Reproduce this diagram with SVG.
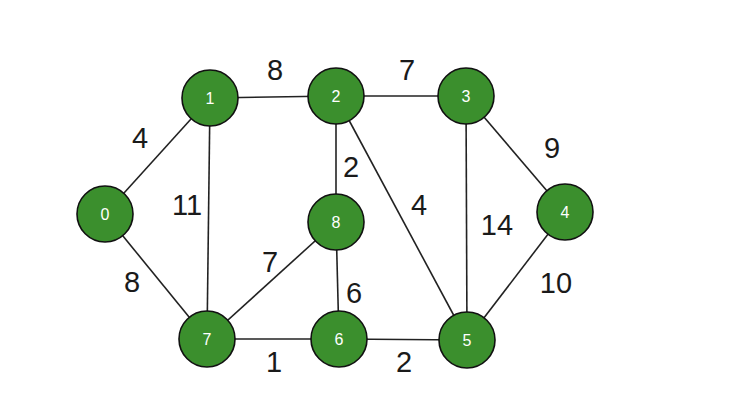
<svg xmlns="http://www.w3.org/2000/svg" width="736" height="416" viewBox="0 0 736 416">
<style>
.e{stroke:#222;stroke-width:1.6;fill:none}
.n{fill:#3b8f2d;stroke:#111;stroke-width:1.6}
.nl{font-family:"Liberation Sans",Arial,sans-serif;font-size:16px;fill:#fff;text-anchor:middle}
.w{font-family:"Liberation Sans",Arial,sans-serif;font-size:29px;fill:#1a1a1a;text-anchor:middle}
</style>
<rect width="736" height="416" fill="#fff"/>
<g id="edges">
<line class="e" x1="105" y1="214" x2="210" y2="98"/>
<line class="e" x1="105" y1="214" x2="207" y2="339"/>
<line class="e" x1="210" y1="98" x2="336" y2="96"/>
<line class="e" x1="210" y1="98" x2="207" y2="339"/>
<line class="e" x1="336" y1="96" x2="466" y2="96"/>
<line class="e" x1="336" y1="96" x2="336" y2="222"/>
<line class="e" x1="336" y1="96" x2="467" y2="340"/>
<line class="e" x1="466" y1="96" x2="565" y2="212"/>
<line class="e" x1="466" y1="96" x2="467" y2="340"/>
<line class="e" x1="565" y1="212" x2="467" y2="340"/>
<line class="e" x1="336" y1="222" x2="207" y2="339"/>
<line class="e" x1="336" y1="222" x2="339" y2="339"/>
<line class="e" x1="207" y1="339" x2="339" y2="339"/>
<line class="e" x1="339" y1="339" x2="467" y2="340"/>
</g>
<g id="weights">
<text class="w" x="140" y="148">4</text>
<text class="w" x="187" y="215">11</text>
<text class="w" x="132" y="292">8</text>
<text class="w" x="275" y="80">8</text>
<text class="w" x="407" y="80">7</text>
<text class="w" x="351" y="177">2</text>
<text class="w" x="419" y="215">4</text>
<text class="w" x="552" y="158">9</text>
<text class="w" x="497" y="235">14</text>
<text class="w" x="556" y="293">10</text>
<text class="w" x="270" y="272">7</text>
<text class="w" x="354" y="303">6</text>
<text class="w" x="274" y="372">1</text>
<text class="w" x="404" y="372">2</text>
</g>
<g id="node0"><circle class="n" cx="105" cy="214" r="28"/><text class="nl" x="105" y="220">0</text></g>
<g id="node1"><circle class="n" cx="210" cy="98" r="28"/><text class="nl" x="210" y="104">1</text></g>
<g id="node2"><circle class="n" cx="336" cy="96" r="28"/><text class="nl" x="336" y="102">2</text></g>
<g id="node3"><circle class="n" cx="466" cy="96" r="28"/><text class="nl" x="466" y="102">3</text></g>
<g id="node4"><circle class="n" cx="565" cy="212" r="28"/><text class="nl" x="565" y="218">4</text></g>
<g id="node5"><circle class="n" cx="467" cy="340" r="28"/><text class="nl" x="467" y="346">5</text></g>
<g id="node6"><circle class="n" cx="339" cy="339" r="28"/><text class="nl" x="339" y="345">6</text></g>
<g id="node7"><circle class="n" cx="207" cy="339" r="28"/><text class="nl" x="207" y="345">7</text></g>
<g id="node8"><circle class="n" cx="336" cy="222" r="28"/><text class="nl" x="336" y="228">8</text></g>
</svg>
